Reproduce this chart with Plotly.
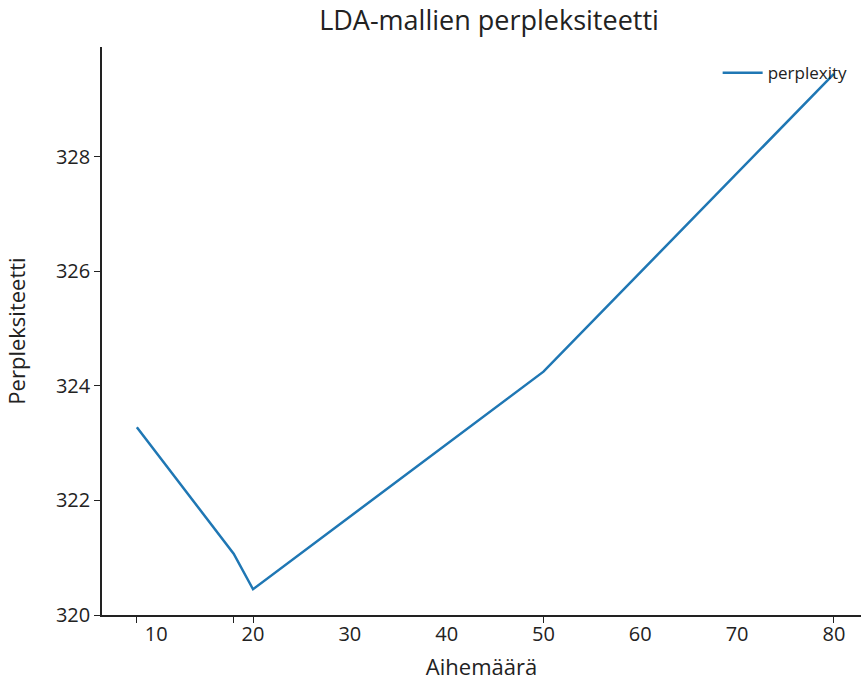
import plotly.graph_objects as go

topics = [8, 18, 20, 50, 80]
perplexity = [323.28, 321.07, 320.45, 324.25, 329.45]
x_ticks = [10, 20, 30, 40, 50, 60, 70, 80]
y_ticks = [320, 322, 324, 326, 328]

font = "Open Sans, Noto Sans, DejaVu Sans, sans-serif"

fig = go.Figure()
fig.add_trace(go.Scatter(x=topics, y=perplexity, mode="lines", name="perplexity",
                         line=dict(color="#1f77b4", width=2.5)))

fig.update_layout(
    width=861, height=687,
    margin=dict(l=102, r=0, t=47, b=72),
    paper_bgcolor="white", plot_bgcolor="white",
    font=dict(family=font, color="#222"),
    title=dict(text="LDA-mallien perpleksiteetti", x=(312 + 666) / 2 / 861, xanchor="center", xref="container",
               y=1 - 21 / 687, yanchor="middle", yref="container", font=dict(size=27, color="#222")),
    showlegend=True,
    legend=dict(x=0.989, xanchor="right", y=0.954, yanchor="middle", bgcolor="rgba(0,0,0,0)",
                font=dict(size=17, color="#222"), borderwidth=0, itemwidth=40),
    xaxis=dict(range=[4.4, 82.8], tickvals=x_ticks, ticks="", showgrid=False, zeroline=False,
               showline=True, linecolor="#222", linewidth=1.5, tickfont=dict(size=20),
               minor=dict(tickvals=topics, ticks="outside", ticklen=6, tickcolor="#222", tickwidth=1, showgrid=False),
               title=dict(text="Aihemäärä", font=dict(size=22), standoff=14)),
    yaxis=dict(range=[320.0, 329.92], tickvals=y_ticks, ticks="outside", ticklen=6, tickcolor="#222",
               showgrid=False, zeroline=False, showline=True, linecolor="#222", linewidth=1.5,
               tickfont=dict(size=20), title=dict(text="Perpleksiteetti", font=dict(size=22), standoff=24)),
)

fig.write_html("out.html")
